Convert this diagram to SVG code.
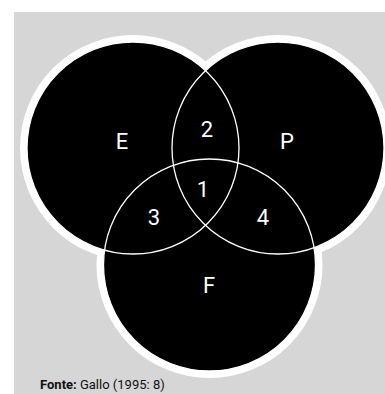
<svg xmlns="http://www.w3.org/2000/svg" width="385" height="394" viewBox="0 0 385 394">
<style>
.rim{fill:none;stroke:#fff;stroke-width:8}
.disc{fill:#000}
.line{fill:none;stroke:#fff;stroke-width:1.3}
.lbl{font-family:Roboto,"Liberation Sans",sans-serif;font-size:22px;fill:#fff;text-anchor:middle}
.src{font-family:Roboto,"Liberation Sans",sans-serif;font-size:13px;fill:#111}
</style>
<rect x="14" y="12" width="371" height="382" fill="#d6d6d6"/>
<g id="rims">
<circle class="rim" cx="133" cy="148" r="109"/>
<circle class="rim" cx="278" cy="148" r="109"/>
<circle class="rim" cx="209.5" cy="265" r="109"/>
</g>
<g id="discs">
<circle class="disc" cx="133" cy="148" r="106"/>
<circle class="disc" cx="278" cy="148" r="106"/>
<circle class="disc" cx="209.5" cy="265" r="106"/>
</g>
<g id="outlines">
<circle class="line" cx="133" cy="148" r="106"/>
<circle class="line" cx="278" cy="148" r="106"/>
<circle class="line" cx="209.5" cy="265" r="106"/>
</g>
<g id="E"><text class="lbl" x="122" y="149">E</text></g>
<g id="P"><text class="lbl" x="287" y="149">P</text></g>
<g id="F"><text class="lbl" x="209" y="293">F</text></g>
<g id="r2"><text class="lbl" x="207" y="137">2</text></g>
<g id="r1"><text class="lbl" x="203" y="197">1</text></g>
<g id="r3"><text class="lbl" x="154" y="225">3</text></g>
<g id="r4"><text class="lbl" x="263" y="225">4</text></g>
<text class="src" x="40" y="389"><tspan font-weight="bold">Fonte:</tspan> Gallo (1995: 8)</text>
</svg>
